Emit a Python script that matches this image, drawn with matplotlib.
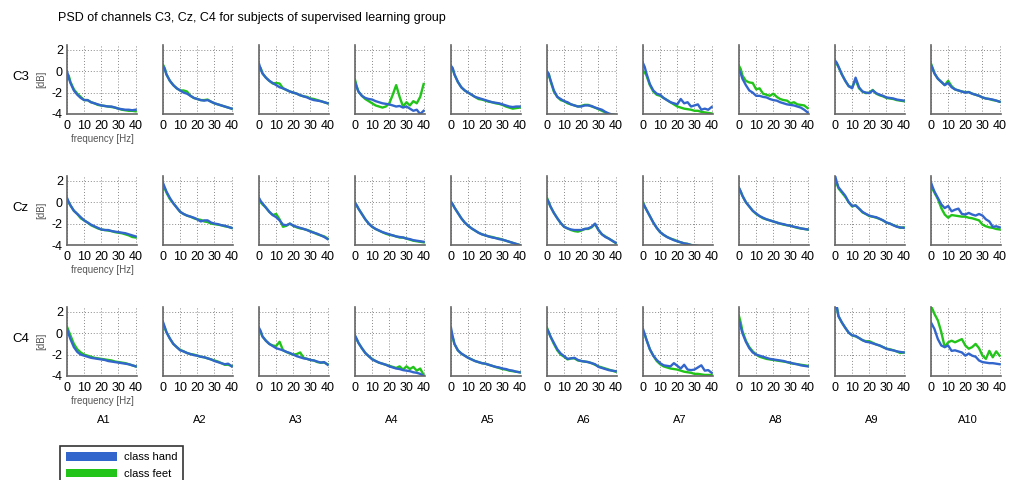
import matplotlib
matplotlib.use("Agg")
import matplotlib.pyplot as plt
from matplotlib.patches import Patch

plt.rcParams['font.family'] = ['Liberation Sans', 'DejaVu Sans']
plt.rcParams['axes.unicode_minus'] = False

title = "PSD of channels C3, Cz, C4 for subjects of supervised learning group"
channels = ["C3", "Cz", "C4"]
subjects = ["A1", "A2", "A3", "A4", "A5", "A6", "A7", "A8", "A9", "A10"]
freqs = [0, 1, 2, 4, 6, 8, 10, 12, 14, 16, 18, 20, 22, 24, 26, 28, 30, 32, 34, 36, 38, 40]
x_ticks = [0, 10, 20, 30, 40]
y_ticks = [-4, -2, 0, 2]
series_names = ["class hand", "class feet"]

# ---- C3 ----
c3_hand = [
    [0.0, -0.6, -1.1, -1.8, -2.2, -2.5, -2.7, -2.7, -2.9, -3.0, -3.1, -3.2, -3.25, -3.3, -3.3, -3.4, -3.5, -3.55, -3.6, -3.6, -3.65, -3.6],
    [0.5, 0.2, -0.3, -0.9, -1.3, -1.6, -1.8, -2.0, -2.1, -2.3, -2.5, -2.6, -2.7, -2.75, -2.7, -2.85, -3.0, -3.1, -3.2, -3.3, -3.4, -3.5],
    [0.7, 0.2, -0.2, -0.6, -0.9, -1.1, -1.3, -1.5, -1.6, -1.75, -1.9, -2.0, -2.1, -2.25, -2.35, -2.45, -2.6, -2.7, -2.75, -2.8, -2.9, -3.0],
    [-1.0, -1.5, -1.9, -2.3, -2.5, -2.6, -2.65, -2.8, -2.9, -3.0, -3.05, -3.1, -3.2, -3.3, -3.25, -3.4, -3.3, -3.5, -3.7, -3.6, -4.0, -3.7],
    [0.5, 0.3, -0.3, -1.0, -1.5, -1.8, -2.0, -2.2, -2.4, -2.5, -2.6, -2.7, -2.8, -2.9, -2.95, -3.0, -3.1, -3.2, -3.3, -3.35, -3.3, -3.3],
    [0.0, -0.3, -0.8, -1.8, -2.4, -2.6, -2.8, -2.9, -3.1, -3.2, -3.3, -3.3, -3.2, -3.2, -3.25, -3.4, -3.5, -3.6, -3.8, -3.95, -4.05, -4.1],
    [0.75, 0.4, -0.2, -1.2, -1.8, -2.1, -2.2, -2.5, -2.7, -2.9, -3.0, -3.1, -2.6, -3.0, -2.9, -3.3, -3.2, -3.1, -3.6, -3.5, -3.6, -3.35],
    [0.1, -0.2, -0.7, -1.3, -1.8, -2.0, -2.3, -2.3, -2.4, -2.45, -2.6, -2.7, -2.75, -2.9, -3.0, -3.1, -3.15, -3.2, -3.3, -3.4, -3.6, -3.85],
    [1.0, 0.8, 0.45, -0.3, -0.9, -1.4, -1.6, -0.6, -1.5, -1.9, -2.0, -2.05, -1.8, -2.05, -2.2, -2.3, -2.45, -2.5, -2.55, -2.65, -2.7, -2.75],
    [0.6, 0.2, -0.2, -0.7, -1.0, -1.3, -1.1, -1.5, -1.7, -1.8, -1.9, -2.0, -1.95, -2.1, -2.2, -2.3, -2.45, -2.55, -2.6, -2.65, -2.75, -2.85],
]
c3_feet = [
    [-0.8, -0.4, -1.0, -1.7, -2.1, -2.4, -2.7, -2.7, -2.9, -3.0, -3.15, -3.2, -3.25, -3.3, -3.35, -3.4, -3.5, -3.6, -3.65, -3.7, -3.7, -3.75],
    [0.6, 0.3, -0.3, -0.9, -1.3, -1.6, -1.8, -1.8, -1.9, -2.3, -2.5, -2.6, -2.7, -2.7, -2.65, -2.85, -3.0, -3.1, -3.2, -3.3, -3.4, -3.5],
    [0.2, 0.3, -0.2, -0.6, -0.9, -1.15, -1.1, -1.15, -1.6, -1.75, -1.9, -2.0, -2.1, -2.25, -2.35, -2.4, -2.55, -2.6, -2.7, -2.8, -2.9, -3.0],
    [-0.8, -1.4, -1.9, -2.3, -2.6, -2.8, -3.0, -3.2, -3.3, -3.4, -3.3, -3.0, -2.2, -1.3, -2.4, -3.3, -2.9, -3.2, -2.8, -3.0, -2.4, -1.2],
    [0.2, 0.2, -0.3, -1.0, -1.5, -1.8, -2.0, -2.2, -2.4, -2.6, -2.65, -2.75, -2.85, -2.9, -3.0, -3.05, -3.15, -3.3, -3.4, -3.5, -3.45, -3.4],
    [-0.6, -0.2, -0.9, -1.9, -2.4, -2.7, -2.8, -3.0, -3.1, -3.2, -3.3, -3.25, -3.15, -3.15, -3.3, -3.4, -3.55, -3.7, -3.85, -4.0, -4.05, -4.1],
    [0.0, -0.1, -0.4, -1.3, -1.9, -2.2, -2.3, -2.5, -2.7, -2.9, -3.1, -3.3, -3.4, -3.5, -3.55, -3.6, -3.7, -3.7, -3.8, -3.85, -3.9, -3.95],
    [0.5, 0.2, -0.4, -0.9, -1.05, -1.1, -1.7, -1.6, -2.1, -2.2, -2.3, -2.1, -2.4, -2.6, -2.7, -2.75, -3.0, -2.9, -3.1, -3.15, -3.2, -3.45],
    [0.9, 0.7, 0.4, -0.3, -0.9, -1.4, -1.5, -0.8, -1.6, -1.9, -2.05, -2.0, -1.75, -2.1, -2.25, -2.35, -2.5, -2.55, -2.6, -2.7, -2.75, -2.8],
    [0.7, 0.3, -0.2, -0.7, -1.0, -1.3, -0.9, -1.4, -1.7, -1.8, -1.9, -1.95, -1.95, -2.1, -2.2, -2.3, -2.45, -2.55, -2.6, -2.7, -2.75, -2.85],
]

# ---- Cz ----
cz_hand = [
    [0.4, 0.0, -0.3, -0.8, -1.1, -1.4, -1.7, -1.9, -2.1, -2.25, -2.4, -2.55, -2.6, -2.6, -2.7, -2.75, -2.8, -2.85, -2.9, -3.0, -3.1, -3.2],
    [1.8, 1.4, 1.0, 0.4, -0.1, -0.5, -0.9, -1.1, -1.25, -1.35, -1.45, -1.6, -1.8, -1.7, -1.7, -1.9, -2.0, -2.05, -2.15, -2.2, -2.3, -2.4],
    [0.4, 0.1, -0.1, -0.5, -0.9, -1.2, -1.4, -1.7, -2.1, -2.15, -2.0, -2.2, -2.3, -2.4, -2.5, -2.6, -2.75, -2.85, -2.95, -3.1, -3.25, -3.45],
    [-0.05, -0.3, -0.6, -1.1, -1.6, -2.0, -2.3, -2.5, -2.65, -2.8, -2.9, -3.0, -3.1, -3.2, -3.25, -3.3, -3.4, -3.45, -3.55, -3.6, -3.65, -3.7],
    [0.05, -0.2, -0.5, -1.0, -1.5, -1.9, -2.2, -2.45, -2.65, -2.85, -3.0, -3.1, -3.2, -3.3, -3.35, -3.45, -3.5, -3.6, -3.7, -3.8, -3.9, -4.0],
    [0.3, 0.0, -0.4, -1.0, -1.5, -1.95, -2.3, -2.45, -2.55, -2.6, -2.6, -2.6, -2.5, -2.45, -2.3, -2.0, -2.6, -3.0, -3.25, -3.4, -3.6, -3.8],
    [-0.1, -0.4, -0.7, -1.3, -1.9, -2.4, -2.8, -3.05, -3.25, -3.4, -3.55, -3.65, -3.75, -3.85, -3.9, -4.0, -4.05, -4.1, -4.15, -4.2, -4.25, -4.3],
    [1.35, 1.0, 0.6, 0.0, -0.4, -0.8, -1.05, -1.3, -1.45, -1.6, -1.7, -1.8, -1.9, -2.0, -2.05, -2.15, -2.2, -2.3, -2.35, -2.45, -2.5, -2.55],
    [2.5, 1.9, 1.4, 1.0, 0.6, 0.0, -0.35, -0.3, -0.6, -0.9, -1.1, -1.25, -1.35, -1.4, -1.55, -1.7, -1.9, -2.0, -2.15, -2.3, -2.35, -2.4],
    [1.85, 1.4, 1.0, 0.4, -0.2, -0.55, -0.35, -0.85, -0.7, -0.6, -1.1, -1.15, -1.0, -1.15, -1.25, -1.1, -1.25, -1.6, -1.8, -2.3, -2.25, -2.35],
]
cz_feet = [
    [0.3, 0.0, -0.3, -0.8, -1.1, -1.5, -1.7, -1.9, -2.15, -2.3, -2.45, -2.55, -2.6, -2.65, -2.7, -2.8, -2.85, -2.9, -3.0, -3.1, -3.25, -3.3],
    [1.2, 1.3, 0.9, 0.3, -0.1, -0.5, -0.9, -1.1, -1.25, -1.35, -1.5, -1.6, -1.65, -1.8, -1.85, -2.0, -2.05, -2.1, -2.15, -2.25, -2.3, -2.4],
    [0.3, 0.0, -0.2, -0.5, -0.9, -1.2, -1.1, -1.6, -2.3, -2.2, -2.0, -2.2, -2.35, -2.45, -2.5, -2.6, -2.7, -2.85, -3.0, -3.1, -3.2, -3.4],
    [-0.1, -0.3, -0.6, -1.1, -1.6, -2.0, -2.3, -2.5, -2.65, -2.8, -2.95, -3.05, -3.1, -3.2, -3.3, -3.3, -3.4, -3.5, -3.6, -3.65, -3.7, -3.75],
    [0.0, -0.2, -0.5, -1.0, -1.5, -1.9, -2.2, -2.45, -2.65, -2.85, -3.0, -3.1, -3.2, -3.25, -3.35, -3.4, -3.5, -3.6, -3.7, -3.8, -3.9, -4.0],
    [0.4, 0.0, -0.4, -1.0, -1.5, -1.95, -2.3, -2.45, -2.6, -2.7, -2.75, -2.65, -2.5, -2.5, -2.35, -2.05, -2.6, -3.0, -3.2, -3.4, -3.6, -3.8],
    [0.0, -0.4, -0.7, -1.3, -1.9, -2.4, -2.8, -3.05, -3.25, -3.4, -3.5, -3.65, -3.75, -3.85, -3.9, -4.0, -4.05, -4.1, -4.15, -4.2, -4.25, -4.3],
    [1.3, 1.0, 0.6, 0.0, -0.4, -0.8, -1.1, -1.3, -1.5, -1.6, -1.7, -1.8, -1.9, -2.0, -2.1, -2.15, -2.2, -2.3, -2.4, -2.45, -2.5, -2.55],
    [1.6, 1.8, 1.3, 0.9, 0.5, 0.0, -0.4, -0.3, -0.6, -0.95, -1.1, -1.3, -1.35, -1.45, -1.55, -1.7, -1.9, -2.0, -2.15, -2.25, -2.4, -2.35],
    [1.5, 1.2, 0.9, 0.3, -0.55, -1.15, -1.45, -1.2, -1.25, -1.3, -1.35, -1.35, -1.45, -1.5, -1.6, -1.7, -2.1, -2.25, -2.35, -2.4, -2.5, -2.55],
]

# ---- C4 ----
c4_hand = [
    [0.4, -0.1, -0.55, -1.3, -1.75, -2.0, -2.1, -2.2, -2.3, -2.35, -2.4, -2.45, -2.5, -2.6, -2.65, -2.7, -2.75, -2.8, -2.85, -2.9, -3.0, -3.1],
    [1.05, 0.6, 0.1, -0.5, -1.0, -1.3, -1.6, -1.7, -1.85, -1.95, -2.05, -2.1, -2.2, -2.25, -2.35, -2.45, -2.6, -2.7, -2.8, -2.9, -2.85, -3.1],
    [0.5, 0.2, -0.3, -0.7, -1.0, -1.2, -1.4, -1.5, -1.6, -1.75, -1.85, -2.0, -2.15, -2.25, -2.35, -2.4, -2.5, -2.55, -2.65, -2.75, -2.7, -2.95],
    [-0.2, -0.55, -0.9, -1.4, -1.85, -2.15, -2.45, -2.6, -2.75, -2.85, -2.95, -3.1, -3.2, -3.3, -3.35, -3.45, -3.5, -3.55, -3.65, -3.7, -3.8, -4.0],
    [0.5, -0.3, -1.0, -1.6, -1.9, -2.1, -2.3, -2.45, -2.6, -2.7, -2.8, -2.85, -2.95, -3.05, -3.15, -3.2, -3.3, -3.35, -3.45, -3.5, -3.6, -3.65],
    [0.4, 0.1, -0.3, -0.9, -1.5, -1.9, -2.15, -2.4, -2.35, -2.3, -2.5, -2.6, -2.65, -2.7, -2.8, -2.9, -3.15, -3.25, -3.35, -3.45, -3.5, -3.55],
    [0.4, -0.1, -0.6, -1.5, -2.1, -2.5, -2.8, -3.0, -3.05, -3.1, -2.8, -3.05, -3.3, -2.95, -3.4, -3.45, -3.4, -3.2, -3.0, -3.5, -3.45, -3.7],
    [1.2, 0.6, 0.0, -0.8, -1.4, -1.8, -2.0, -2.1, -2.2, -2.3, -2.4, -2.45, -2.5, -2.55, -2.6, -2.7, -2.75, -2.85, -2.9, -3.0, -3.05, -3.1],
    [2.5, 2.5, 1.6, 1.0, 0.5, 0.05, -0.2, -0.25, -0.45, -0.65, -0.8, -0.85, -0.95, -1.05, -1.15, -1.3, -1.45, -1.55, -1.6, -1.7, -1.75, -1.8],
    [1.0, 0.7, 0.4, -0.55, -1.15, -1.3, -1.15, -1.65, -1.6, -1.7, -1.8, -2.1, -1.9, -2.1, -2.2, -2.55, -2.7, -2.75, -2.8, -2.8, -2.85, -2.9],
]
c4_feet = [
    [0.6, 0.2, -0.2, -1.0, -1.5, -1.8, -2.0, -2.1, -2.2, -2.3, -2.35, -2.4, -2.45, -2.5, -2.55, -2.65, -2.7, -2.75, -2.8, -2.9, -3.0, -3.1],
    [0.9, 0.5, 0.1, -0.5, -1.0, -1.3, -1.55, -1.7, -1.85, -1.95, -2.0, -2.1, -2.2, -2.25, -2.35, -2.45, -2.55, -2.65, -2.8, -2.95, -2.95, -3.05],
    [0.3, 0.1, -0.3, -0.7, -1.0, -1.15, -1.2, -0.8, -1.6, -1.75, -1.9, -2.0, -1.95, -1.8, -2.3, -2.4, -2.5, -2.55, -2.7, -2.75, -2.75, -2.9],
    [-0.3, -0.55, -0.9, -1.4, -1.85, -2.15, -2.4, -2.6, -2.75, -2.85, -2.95, -3.05, -3.15, -3.25, -3.1, -3.4, -3.1, -3.35, -3.15, -3.5, -3.3, -3.9],
    [-0.1, -0.4, -1.0, -1.6, -1.9, -2.1, -2.3, -2.45, -2.6, -2.7, -2.8, -2.85, -2.95, -3.05, -3.15, -3.25, -3.35, -3.4, -3.5, -3.55, -3.6, -3.65],
    [0.5, 0.1, -0.3, -1.0, -1.6, -2.0, -2.2, -2.45, -2.35, -2.35, -2.55, -2.6, -2.65, -2.7, -2.8, -2.95, -3.1, -3.2, -3.3, -3.4, -3.5, -3.6],
    [0.2, -0.1, -0.6, -1.5, -2.1, -2.6, -2.9, -3.1, -3.2, -3.3, -3.35, -3.4, -3.5, -3.6, -3.65, -3.7, -3.8, -3.8, -3.85, -3.9, -3.9, -3.9],
    [1.6, 1.0, 0.2, -0.7, -1.3, -1.7, -2.0, -2.2, -2.3, -2.4, -2.45, -2.5, -2.55, -2.6, -2.65, -2.7, -2.8, -2.85, -2.9, -2.95, -3.0, -3.05],
    [2.5, 2.5, 1.6, 1.0, 0.5, 0.05, -0.2, -0.3, -0.45, -0.65, -0.75, -0.75, -0.9, -1.05, -1.15, -1.3, -1.45, -1.5, -1.6, -1.7, -1.85, -1.8],
    [2.5, 2.2, 1.8, 1.2, 0.1, -1.3, -0.85, -0.7, -0.85, -0.7, -0.55, -1.15, -1.45, -1.3, -1.0, -1.4, -2.1, -2.4, -1.65, -2.25, -1.7, -2.1],
]

hand_data = [c3_hand, cz_hand, c4_hand]
feet_data = [c3_feet, cz_feet, c4_feet]

color_hand = "#3366cc"
color_feet = "#22c41a"

W, H = 1011, 480
fig = plt.figure(figsize=(W / 100, H / 100), dpi=100)

ax_w, ax_h = 70, 69
col_left0, col_step = 67, 96
row_top0, row_step = 45, 131

fig.text(58 / W, 1 - 18 / H, title, fontsize=9, ha="left", va="center")

for r, ch in enumerate(channels):
    top = row_top0 + r * row_step
    for c, subj in enumerate(subjects):
        left = col_left0 + c * col_step
        ax = fig.add_axes([left / W, 1 - (top + ax_h) / H, ax_w / W, ax_h / H])
        ax.plot(freqs, feet_data[r][c], color=color_feet, lw=1.7, solid_joinstyle="round")
        ax.plot(freqs, hand_data[r][c], color=color_hand, lw=1.7, solid_joinstyle="round")
        ax.set_xlim(0, 40.8)
        ax.set_ylim(-4, 2.45)
        ax.set_xticks(x_ticks)
        ax.set_yticks(y_ticks)
        ax.grid(True, linestyle=(0, (1, 2)), color="#888888", lw=0.7)
        for s in ("top", "right"):
            ax.spines[s].set_visible(False)
        for s in ("left", "bottom"):
            ax.spines[s].set_color("#666666")
            ax.spines[s].set_linewidth(1.2)
        ax.tick_params(axis="x", length=0, labelsize=9, pad=4)
        ax.tick_params(axis="y", length=0, labelsize=9, pad=3)
        if c != 0:
            ax.set_yticklabels([])
        else:
            ax.set_ylabel("[dB]", fontsize=7, color="#555555", labelpad=4)
            ax.set_xlabel("frequency [Hz]", fontsize=7, color="#555555", labelpad=2)
        if r == 2:
            fig.text((left + 37) / W, 1 - 420 / H, subj, fontsize=8, ha="center", va="center")
    fig.text(12 / W, 1 - (top + 32) / H, ch, fontsize=9.5, ha="left", va="center")

handles = [Patch(facecolor=color_hand, edgecolor="none"), Patch(facecolor=color_feet, edgecolor="none")]
leg = fig.legend(handles, series_names, loc="upper left", bbox_to_anchor=(60 / W, 1 - 446 / H),
                 fontsize=8, handlelength=4.6, handleheight=0.85, handletextpad=0.6,
                 borderpad=0.55, labelspacing=0.55, frameon=True, fancybox=False, borderaxespad=0)
leg.get_frame().set_edgecolor("black")
leg.get_frame().set_linewidth(1.2)

fig.savefig("out.png", dpi=100)
